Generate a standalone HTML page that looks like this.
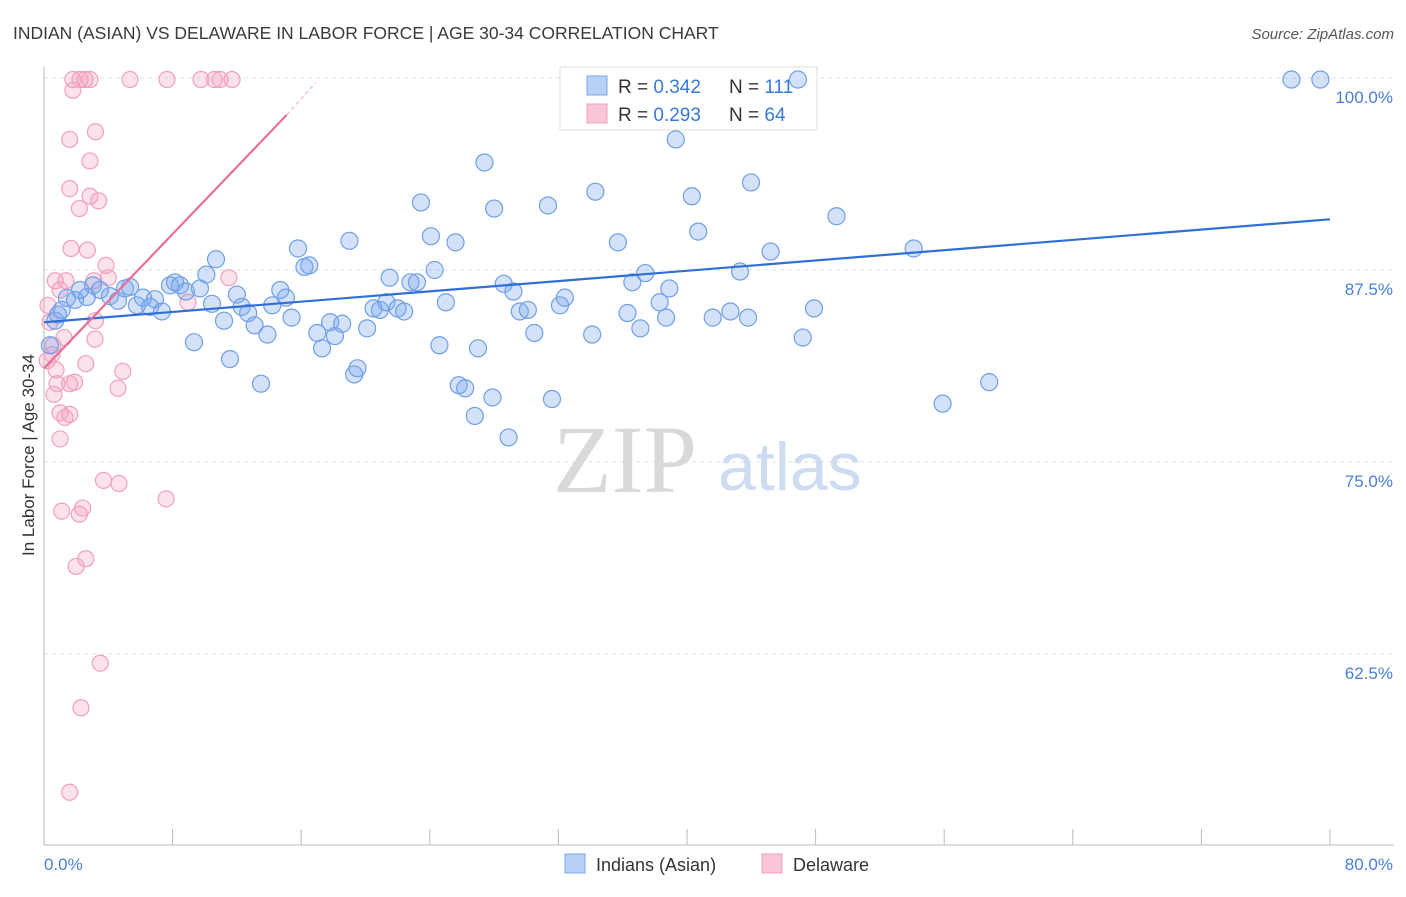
<!DOCTYPE html>
<html><head><meta charset="utf-8"><style>
body{margin:0;background:#fff;font-family:"Liberation Sans",sans-serif;}
svg text{font-family:"Liberation Sans",sans-serif;}
</style></head><body>
<svg id="chart" width="1406" height="892" viewBox="0 0 1406 892" xmlns="http://www.w3.org/2000/svg">
<text x="13" y="39" font-size="17.5" fill="#3a3a3a">INDIAN (ASIAN) VS DELAWARE IN LABOR FORCE | AGE 30-34 CORRELATION CHART</text>
<text x="1394" y="39" font-size="15" fill="#555" text-anchor="end" font-style="italic">Source: ZipAtlas.com</text>
<g id="grid"></g>
<line x1="44" y1="67" x2="44" y2="845" stroke="#bbb" stroke-width="1"/>
<line x1="44" y1="845" x2="1394" y2="845" stroke="#bbb" stroke-width="1"/>
<g id="xticks"></g>
<text x="553" y="492" font-size="96" fill="#d9d9d9" style="font-family:'Liberation Serif',serif">ZIP</text>
<text x="718" y="490" font-size="68" fill="#cddcf1">atlas</text>
<g>
<rect x="560" y="67" width="257" height="63" fill="#fff" stroke="#ddd"/>
<rect x="587" y="76" width="20" height="19" fill="#b7d1f5" stroke="#7aa6e8"/>
<rect x="587" y="104" width="20" height="19" fill="#f8c6d6" stroke="#f0a0bd"/>
<text x="618" y="93" font-size="19" fill="#333">R = <tspan fill="#3a78d8">0.342</tspan></text>
<text x="729" y="93" font-size="19" fill="#333">N = <tspan fill="#3a78d8">111</tspan></text>
<text x="618" y="121" font-size="19" fill="#333">R = <tspan fill="#3a78d8">0.293</tspan></text>
<text x="729" y="121" font-size="19" fill="#333">N = <tspan fill="#3a78d8">64</tspan></text>
</g>
<g id="pts"></g>
<g id="trends"></g>
<text transform="translate(34,455) rotate(-90)" font-size="17" fill="#333" text-anchor="middle">In Labor Force | Age 30-34</text>
<text x="44" y="870" font-size="17" fill="#4a7fd4">0.0%</text>
<text x="1393" y="870" font-size="17" fill="#4a7fd4" text-anchor="end">80.0%</text>
<g>
<rect x="565" y="854" width="20" height="19" fill="#b7d1f5" stroke="#7aa6e8"/>
<text x="596" y="871" font-size="18" fill="#333">Indians (Asian)</text></g>
<g>
<rect x="762" y="854" width="20" height="19" fill="#f8c6d6" stroke="#f0a0bd"/>
<text x="793" y="871" font-size="18" fill="#333">Delaware</text></g>
</svg>
<script>
const yTicks=[100,87.5,75,62.5];
const yTickLabels=["100.0%","87.5%","75.0%","62.5%"];
const xTickVals=[0,8,16,24,32,40,48,56,64,72,80];
const blueX=[1.43,1.93,2.67,2.24,3.05,3.48,4.1,4.6,5.04,5.35,5.78,6.16,6.6,6.9,7.34,7.84,8.15,8.46,8.83,9.33,9.7,10.1,10.45,10.7,11.2,11.57,12.0,12.3,12.7,13.1,13.5,13.9,14.2,14.7,15.05,15.4,15.8,16.2,16.5,17.0,17.3,17.8,18.1,18.55,19.0,19.3,19.5,20.1,20.5,20.9,21.3,21.5,22.0,22.4,22.8,23.2,23.45,24.07,24.3,24.6,25.0,25.6,25.8,26.2,26.8,27.0,27.4,27.9,28.0,28.6,28.9,29.2,29.6,30.1,30.5,31.35,31.6,32.1,32.4,34.1,34.3,35.7,36.3,36.6,37.1,37.4,38.3,38.7,38.9,39.3,40.3,40.7,41.6,42.7,43.3,43.8,43.98,45.2,46.9,47.2,47.9,49.3,54.1,55.9,58.8,77.6,79.4,0.7,0.37,0.87,1.1];
const blueY=[85.68,85.55,85.74,86.2,86.5,86.2,85.8,85.5,86.3,86.4,85.2,85.7,85.1,85.6,84.8,86.5,86.7,86.5,86.1,82.8,86.3,87.2,85.3,88.2,84.2,81.7,85.9,85.1,84.7,83.9,80.1,83.3,85.2,86.2,85.7,84.4,88.9,87.7,87.8,83.4,82.4,84.1,83.2,84.0,89.4,80.7,81.1,83.7,85.0,84.9,85.4,87.0,85.0,84.8,86.7,86.7,91.9,89.7,87.5,82.6,85.4,89.3,80.0,79.8,78.0,82.4,94.5,79.2,91.5,86.6,76.6,86.1,84.8,84.9,83.4,91.7,79.1,85.2,85.7,83.3,92.6,89.3,84.7,86.7,83.7,87.3,85.4,84.4,86.3,96.0,92.3,90.0,84.4,84.8,87.4,84.4,93.2,88.7,99.9,83.1,85.0,91.0,88.9,78.8,80.2,99.9,99.9,84.2,82.6,84.6,84.9];
const pinkX=[0.25,0.37,0.5,0.2,0.56,0.7,0.62,0.81,1.0,1.0,1.1,1.3,1.6,1.6,1.8,1.8,1.9,2.0,1.6,1.6,1.68,1.37,2.2,2.24,2.3,2.4,2.55,2.6,2.6,2.7,2.86,2.86,2.86,3.1,3.17,3.2,3.2,3.4,2.2,3.5,3.7,3.86,4.0,4.6,4.66,4.9,5.35,7.65,7.6,1.6,8.96,9.77,10.6,10.95,11.5,11.7,1.0,1.24,0.75];
const pinkY=[85.2,84.1,82.0,81.6,82.6,86.8,79.4,80.1,78.2,76.5,71.8,77.9,78.1,80.1,99.9,99.2,80.2,68.2,96.0,92.8,88.9,86.8,71.6,99.9,59.0,72.0,99.9,68.7,81.4,88.8,94.6,99.9,92.3,86.8,83.0,84.2,96.5,92.0,91.5,61.9,73.8,87.8,87.0,79.8,73.6,80.9,99.9,99.9,72.6,53.5,85.4,99.9,99.9,99.9,87.0,99.9,86.2,83.1,81.0];
const blueTrend=[[0,84.1],[80,90.8]];
const pinkTrend=[[0,81.1],[15.1,97.6]];
const pinkTrendExt=[[15.1,97.6],[16.9,99.7]];
const NS="http://www.w3.org/2000/svg";
const X=v=>44+v/80*1286;
const Y=v=>78+(100-v)*15.36;
function mk(t,a,p){const e=document.createElementNS(NS,t);for(const k in a)e.setAttribute(k,a[k]);p.appendChild(e);return e;}
const grid=document.getElementById('grid');
yTicks.forEach((v,i)=>{
 const l=mk('line',{x1:44,x2:1394,y1:Y(v),y2:Y(v),stroke:'#e2e2e2','stroke-dasharray':'4,4'},grid);
 
 
 const t=mk('text',{x:1393,y:Y(v)+25,'font-size':17,fill:'#4a7fd4','text-anchor':'end'},grid);
 t.textContent=yTickLabels[i];
 
 
});
const xt=document.getElementById('xticks');
xTickVals.forEach(v=>{
 const l=mk('line',{x1:X(v),x2:X(v),y1:829,y2:845,stroke:'#bbb'},xt);
 
 
});
const pts=document.getElementById('pts');
pinkX.forEach((x,i)=>{
 const c=mk('circle',{cx:X(x),cy:Y(pinkY[i]),r:8,fill:'rgba(244,160,190,0.3)',stroke:'#f0a0bd','stroke-width':1.2},pts);
 
 
});
blueX.forEach((x,i)=>{
 const c=mk('circle',{cx:X(x),cy:Y(blueY[i]),r:8.5,fill:'rgba(120,165,235,0.32)',stroke:'#6f9fe6','stroke-width':1.2},pts);
 
 
});
const tr=document.getElementById('trends');
let l=mk('line',{x1:X(blueTrend[0][0]),y1:Y(blueTrend[0][1]),x2:X(blueTrend[1][0]),y2:Y(blueTrend[1][1]),stroke:'#2f6fd6','stroke-width':2.2},tr);


l=mk('line',{x1:X(pinkTrend[0][0]),y1:Y(pinkTrend[0][1]),x2:X(pinkTrend[1][0]),y2:Y(pinkTrend[1][1]),stroke:'#e8709a','stroke-width':2.2},tr);


l=mk('line',{x1:X(pinkTrendExt[0][0]),y1:Y(pinkTrendExt[0][1]),x2:X(pinkTrendExt[1][0]),y2:Y(pinkTrendExt[1][1]),stroke:'#f2b6c9','stroke-width':1.2,'stroke-dasharray':'4,3'},tr);


</script>
</body></html>
